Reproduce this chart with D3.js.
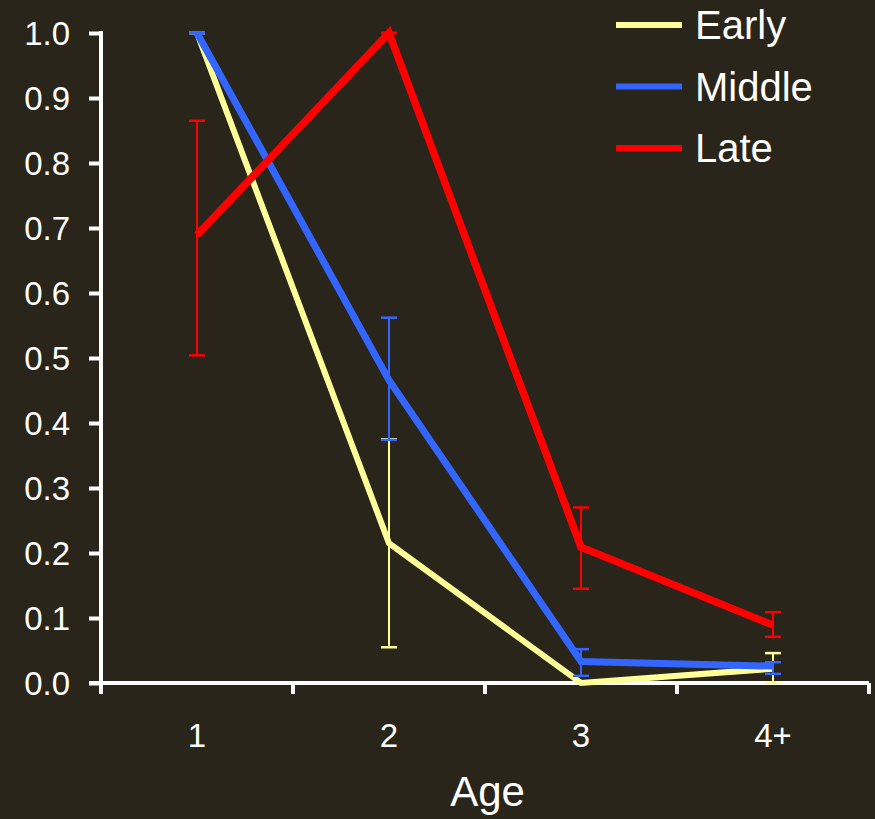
<!DOCTYPE html>
<html>
<head>
<meta charset="utf-8">
<script src="https://cdn.jsdelivr.net/npm/d3@7"></script>
<style>
  body { margin: 0; background: #29251a; }
  svg { display: block; font-family: "Liberation Sans", Arial, sans-serif; }
</style>
</head>
<body>
<svg class="chart"></svg>
<script>
// chart size
var width = 875;
var height = 819;
var margin = {top: 33, right: 5, bottom: 135, left: 101};
var w = width - margin.left - margin.right;
var h = height - margin.top - margin.bottom;

// data
var ages = ["1", "2", "3", "4+"];
var seriesNames = ["Early", "Middle", "Late"];
var seriesColors = ["#ffff99", "#3366ff", "#ff0000"];
var earlyValues = [1.0, 0.215, 0.0, 0.022];
var earlyLow = [1.0, 0.055, 0.0, 0.0];
var earlyHigh = [1.0, 0.375, 0.0, 0.046];
var middleValues = [1.0, 0.466, 0.033, 0.026];
var middleLow = [1.0, 0.374, 0.011, 0.014];
var middleHigh = [1.0, 0.562, 0.052, 0.032];
var lateValues = [0.689, 1.0, 0.209, 0.089];
var lateLow = [0.504, 1.0, 0.145, 0.071];
var lateHigh = [0.865, 1.0, 0.27, 0.109];
var yTicks = [0, 0.1, 0.2, 0.3, 0.4, 0.5, 0.6, 0.7, 0.8, 0.9, 1.0];

var series = [
    {name: seriesNames[0], color: seriesColors[0], values: earlyValues, low: earlyLow, high: earlyHigh, width: 6},
    {name: seriesNames[1], color: seriesColors[1], values: middleValues, low: middleLow, high: middleHigh, width: 7},
    {name: seriesNames[2], color: seriesColors[2], values: lateValues, low: lateLow, high: lateHigh, width: 7.5}
];

var svg = d3.select(".chart")
    .attr("width", width)
    .attr("height", height);

var chart = svg.append("g")
    .attr("transform", "translate(" + margin.left + "," + margin.top + ")");

var x = d3.scaleBand()
    .domain(ages)
    .range([0, w - 1]);

var y = d3.scaleLinear()
    .domain([0, 1])
    .range([h - 1, 0]);

// y axis
var yAxis = chart.append("g")
    .call(d3.axisLeft(y).tickValues(yTicks).tickFormat(d3.format(".1f")).tickSize(12).tickPadding(19));
yAxis.select(".domain").remove();
yAxis.append("line")
    .attr("x1", 0).attr("x2", 0)
    .attr("y1", -2).attr("y2", h + 10)
    .attr("stroke", "#fff").attr("stroke-width", 4);
yAxis.selectAll(".tick line").attr("stroke", "#fff").attr("stroke-width", 4);
yAxis.selectAll(".tick text")
    .attr("fill", "#fff")
    .style("font-size", "33px")
    .attr("dy", "0.36em");

// x axis: ticks sit on the band edges
var edges = ages.map(function(a) { return x(a); }).concat([x.range()[1]]);
var xAxis = chart.append("g")
    .attr("transform", "translate(0," + (h - 1) + ")");
xAxis.append("line")
    .attr("x1", -12).attr("x2", w - 1)
    .attr("stroke", "#fff").attr("stroke-width", 4);
xAxis.selectAll(".xtick").data(edges).enter().append("line")
    .attr("x1", function(d) { return d; })
    .attr("x2", function(d) { return d; })
    .attr("y1", 0).attr("y2", 11)
    .attr("stroke", "#fff").attr("stroke-width", 4);
xAxis.selectAll(".xlabel").data(ages).enter().append("text")
    .attr("x", function(d) { return x(d) + x.bandwidth() / 2; })
    .attr("y", 64)
    .attr("text-anchor", "middle")
    .attr("fill", "#fff")
    .style("font-size", "33px")
    .text(function(d) { return d; });

// x axis label
chart.append("text")
    .attr("x", w / 2 + 2)
    .attr("y", h + 122)
    .attr("text-anchor", "middle")
    .attr("fill", "#fff")
    .style("font-size", "42px")
    .text("Age");

var cx = function(i) { return x(ages[i]) + x.bandwidth() / 2; };

var line = d3.line()
    .x(function(d, i) { return cx(i); })
    .y(function(d) { return y(d); });

// lines and error bars
series.forEach(function(s) {
    chart.append("path")
        .datum(s.values)
        .attr("fill", "none")
        .attr("stroke", s.color)
        .attr("stroke-width", s.width)
        .attr("stroke-linejoin", "miter")
        .attr("d", line);

    var err = chart.append("g");
    s.values.forEach(function(v, i) {
        if (s.low[i] === s.high[i] && v === 0) return;
        err.append("line")
            .attr("x1", cx(i)).attr("x2", cx(i))
            .attr("y1", y(s.low[i])).attr("y2", y(s.high[i]))
            .attr("stroke", s.color).attr("stroke-width", 2);
        [s.low[i], s.high[i]].forEach(function(e) {
            err.append("line")
                .attr("x1", cx(i) - 8).attr("x2", cx(i) + 8)
                .attr("y1", y(e)).attr("y2", y(e))
                .attr("stroke", s.color).attr("stroke-width", 2.5);
        });
    });
});

// legend
var legend = svg.append("g");
series.forEach(function(s, i) {
    var ly = 25 + i * 61.5;
    legend.append("line")
        .attr("x1", 616).attr("x2", 682)
        .attr("y1", ly).attr("y2", ly)
        .attr("stroke", s.color).attr("stroke-width", 6);
    legend.append("text")
        .attr("x", 695)
        .attr("y", ly + 14)
        .attr("fill", "#fff")
        .style("font-size", "40px")
        .text(s.name);
});
</script>
</body>
</html>
